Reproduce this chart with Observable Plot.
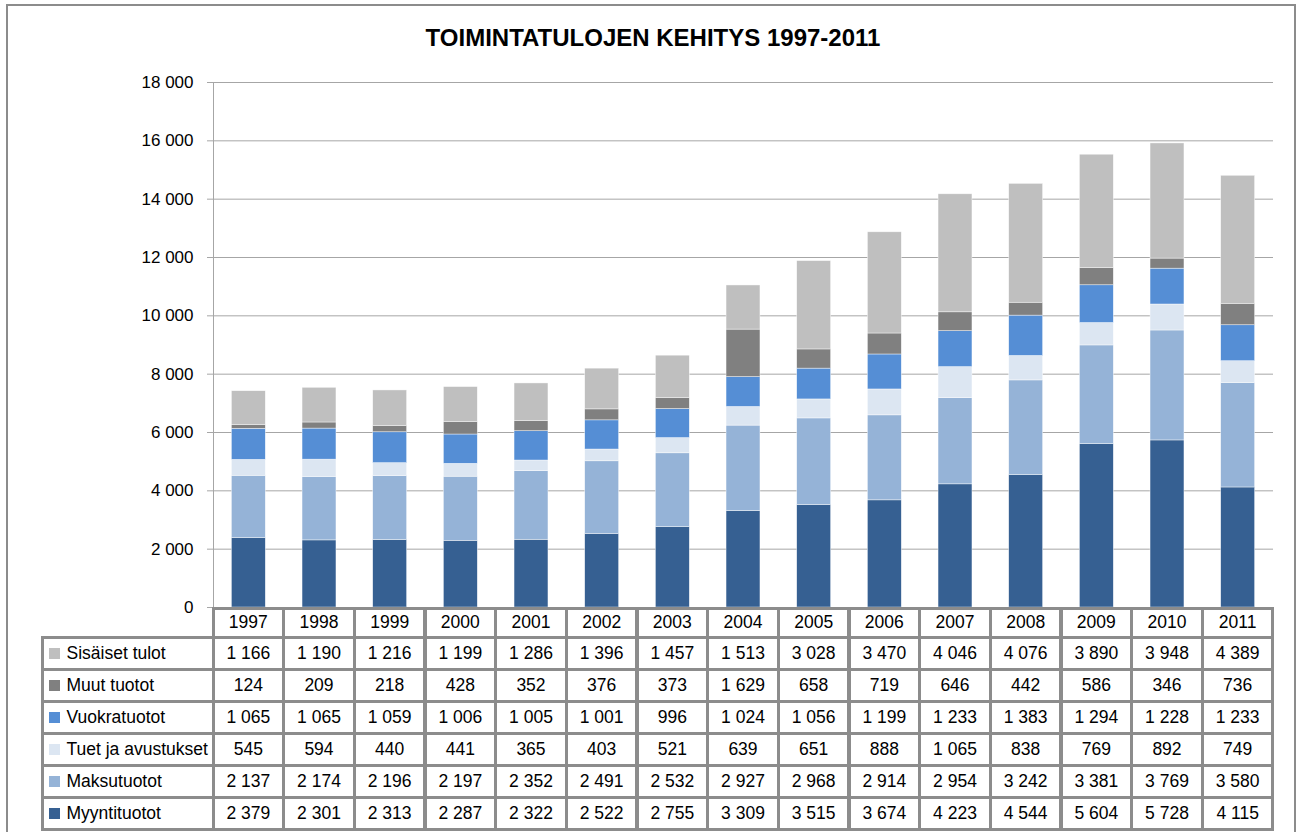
<!DOCTYPE html>
<html><head><meta charset="utf-8">
<script src="https://cdn.jsdelivr.net/npm/d3@7"></script>
<script src="https://cdn.jsdelivr.net/npm/@observablehq/plot@0.6"></script>
<style>
body{margin:0;background:#fff;font-family:"Liberation Sans",Arial,sans-serif;}
#page{position:relative;width:1297px;height:832px;overflow:hidden;background:#fff;}
#frame{position:absolute;left:6px;top:4px;width:1286px;height:900px;border:2px solid #8c8c8c;}
#title{position:absolute;left:0;width:1306px;top:26px;line-height:24px;text-align:center;font-weight:bold;font-size:24px;color:#000;}
#chart{position:absolute;left:0;top:0;}
.cell{position:absolute;box-sizing:border-box;border:3px solid #8c8c8c;display:flex;align-items:center;justify-content:center;font-size:17.5px;color:#000;background:#fff;white-space:nowrap;}
.lab{justify-content:flex-start;padding-left:5px;}
.sw{width:11px;height:11px;margin-right:7px;display:inline-block;flex:none;}
</style></head>
<body>
<div id="page">
  <div id="frame"></div>
  <div id="title">TOIMINTATULOJEN KEHITYS 1997-2011</div>
  <div id="chart"></div>
  <div id="table"></div>
</div>
<script>
const years = ["1997","1998","1999","2000","2001","2002","2003","2004","2005","2006","2007","2008","2009","2010","2011"];
const myyntituotot = [2379,2301,2313,2287,2322,2522,2755,3309,3515,3674,4223,4544,5604,5728,4115];
const maksutuotot  = [2137,2174,2196,2197,2352,2491,2532,2927,2968,2914,2954,3242,3381,3769,3580];
const tuetJaAvustukset = [545,594,440,441,365,403,521,639,651,888,1065,838,769,892,749];
const vuokratuotot = [1065,1065,1059,1006,1005,1001,996,1024,1056,1199,1233,1383,1294,1228,1233];
const muutTuotot   = [124,209,218,428,352,376,373,1629,658,719,646,442,586,346,736];
const sisaisetTulot = [1166,1190,1216,1199,1286,1396,1457,1513,3028,3470,4046,4076,3890,3948,4389];

// bottom to top
const seriesNames = ["Myyntituotot","Maksutuotot","Tuet ja avustukset","Vuokratuotot","Muut tuotot","Sisäiset tulot"];
const seriesValues = [myyntituotot, maksutuotot, tuetJaAvustukset, vuokratuotot, muutTuotot, sisaisetTulot];
const seriesColors = ["#366092","#95b3d7","#dce6f2","#558ed5","#808080","#bfbfbf"];
const yTicks = [0,2000,4000,6000,8000,10000,12000,14000,16000,18000];

const fmt = v => d3.format(",")(v).replace(/,/g, " ");

const data = [];
years.forEach((yr, i) => seriesNames.forEach((s, j) => data.push({year: yr, series: s, value: seriesValues[j][i]})));

const chart = Plot.plot({
  width: 1297, height: 612,
  marginLeft: 213, marginRight: 24, marginTop: 82, marginBottom: 5,
  style: {fontFamily: "Liberation Sans, Arial, sans-serif", fontSize: "17px", color: "#000", background: "transparent", overflow: "visible"},
  x: {domain: years, paddingInner: 0.52, paddingOuter: 0.26, round: false, axis: null},
  y: {domain: [0, 18000], axis: null},
  color: {domain: seriesNames, range: seriesColors},
  marks: [
    Plot.gridY(yTicks, {stroke: "#a6a6a6", strokeOpacity: 1, strokeWidth: 1}),
    Plot.axisY(yTicks, {tickSize: 6, tickPadding: 14, tickFormat: fmt, stroke: "#a6a6a6", fill: "#000", fontSize: 17, label: null}),
    Plot.frame({anchor: "left", stroke: "#a6a6a6"}),
    Plot.barY(data, {x: "year", y: "value", fill: "series", order: seriesNames, stroke: "#ffffff", strokeWidth: 0.6, strokeOpacity: 0.7}),
    Plot.ruleY([0], {stroke: "#8c8c8c"})
  ]
});
document.getElementById("chart").appendChild(chart);

// data table aligned with the chart's x band scale
const xs = chart.scale("x");
const step = xs.step;
const table = document.getElementById("table");
function cell(left, top, w, h, cls) {
  const d = document.createElement("div");
  d.className = "cell" + (cls ? " " + cls : "");
  d.style.left = (left - 1.5) + "px";
  d.style.top = (top - 1.5) + "px";
  d.style.width = (w + 3) + "px";
  d.style.height = (h + 3) + "px";
  table.appendChild(d);
  return d;
}
const headerTop = 608, headerH = 29, rowH = 32;
const firstRowTop = headerTop + headerH;
const labelLeft = 42;
const colLeft = yr => xs.apply(yr) + xs.bandwidth / 2 - step / 2;
const tableLeft = colLeft(years[0]);

years.forEach(yr => {
  const c = cell(colLeft(yr), headerTop, step, headerH);
  c.textContent = yr;
});
const rowOrder = seriesNames.slice().reverse();
rowOrder.forEach((s, r) => {
  const top = firstRowTop + r * rowH;
  const j = seriesNames.indexOf(s);
  const lc = cell(labelLeft, top, tableLeft - labelLeft, rowH, "lab");
  const sw = document.createElement("span");
  sw.className = "sw";
  sw.style.background = seriesColors[j];
  lc.appendChild(sw);
  lc.appendChild(document.createTextNode(s));
  years.forEach((yr, i) => {
    const c = cell(colLeft(yr), top, step, rowH);
    c.textContent = fmt(seriesValues[j][i]);
  });
});
</script>
</body></html>
